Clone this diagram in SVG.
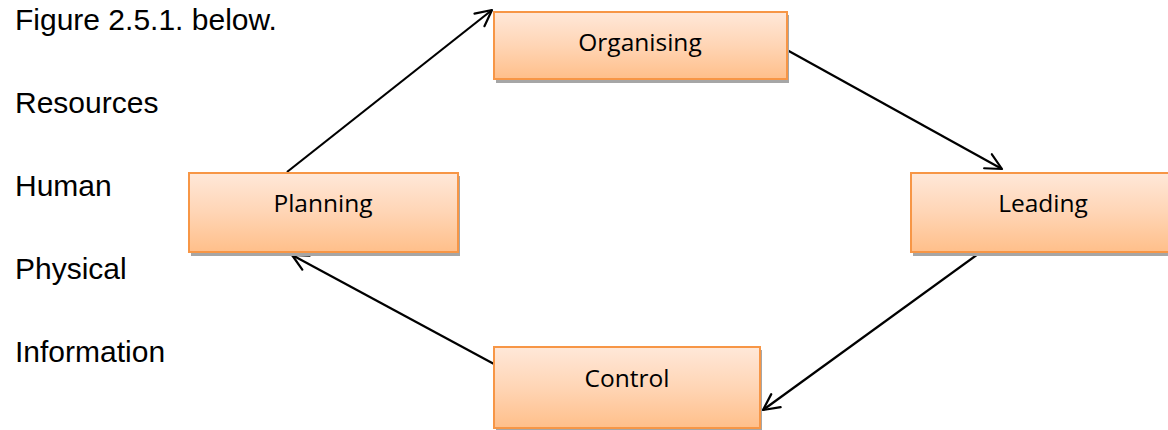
<svg xmlns="http://www.w3.org/2000/svg" width="1168" height="430" viewBox="0 0 1168 430">
<defs>
<linearGradient id="g" x1="0" y1="0" x2="0" y2="1">
<stop offset="0" stop-color="#FFE8D9"/>
<stop offset="0.5" stop-color="#FFD5B5"/>
<stop offset="1" stop-color="#FFBF8A"/>
</linearGradient>
<marker id="ah" viewBox="0 0 20 20" refX="18" refY="10" markerWidth="20" markerHeight="20" markerUnits="userSpaceOnUse" orient="auto">
<path d="M2,2 L18,10 L2,18" fill="none" stroke="#000" stroke-width="2.2" stroke-linecap="round" stroke-linejoin="round"/>
</marker>
</defs>
<style>
.side{font-family:"Liberation Sans",Arial,sans-serif;font-size:30px;fill:#000}
.box{fill:url(#g);stroke:#F79646;stroke-width:2}
.sh{fill:#A6A6A6}
.lbl{font-family:"Open Sans","Noto Sans",sans-serif;font-size:24.5px;fill:#000;text-anchor:middle}
.con{stroke:#000;stroke-width:2.2;fill:none;marker-end:url(#ah)}
</style>
<rect width="1168" height="430" fill="#fff"/>
<g id="side-text">
<text class="side" x="15" y="30">Figure 2.5.1. below.</text>
<text class="side" x="15" y="113">Resources</text>
<text class="side" x="15" y="196">Human</text>
<text class="side" x="15" y="279">Physical</text>
<text class="side" x="15" y="362">Information</text>
</g>
<g id="connectors">
<line class="con" x1="287" y1="172" x2="492" y2="10"/>
<line class="con" x1="787" y1="50" x2="1002" y2="169"/>
<line class="con" x1="978" y1="254" x2="763" y2="410"/>
<line class="con" x1="494" y1="364" x2="292" y2="255"/>
</g>
<g id="planning">
<rect class="sh" x="191" y="176" width="269" height="80"/>
<rect class="box" x="189" y="173" width="269" height="79"/>
<text class="lbl" x="323" y="212">Planning</text>
</g>
<g id="organising">
<rect class="sh" x="496" y="15" width="293" height="68"/>
<rect class="box" x="494" y="12" width="293" height="67"/>
<text class="lbl" x="640" y="51">Organising</text>
</g>
<g id="leading">
<rect class="sh" x="913" y="176" width="270" height="80"/>
<rect class="box" x="911" y="173" width="270" height="79"/>
<text class="lbl" x="1043" y="212">Leading</text>
</g>
<g id="control">
<rect class="sh" x="496" y="350" width="266" height="82"/>
<rect class="box" x="494" y="347" width="266" height="81"/>
<text class="lbl" x="627" y="387">Control</text>
</g>
</svg>
